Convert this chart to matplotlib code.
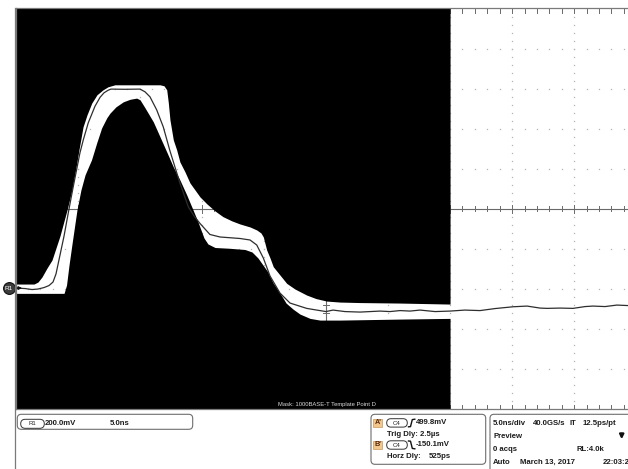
import numpy as np
import matplotlib
matplotlib.use('Agg')
import matplotlib.pyplot as plt
from matplotlib.patches import FancyBboxPatch, Rectangle

# ---------------- data ----------------
ns_per_div = 5.0
mv_per_div = 200.0
r1_center_mv = 396.0          # screen centre relative to R1 ground (mV)

trace_t = [0.00, 0.77, 1.33, 1.81, 2.30, 2.70, 3.02, 3.26, 3.50, 3.91, 4.31, 4.63, 4.95,
           5.19, 5.46, 5.86, 6.40, 6.81, 7.13, 7.45, 7.69, 8.81, 10.03, 10.43, 10.83,
           11.37, 11.90, 12.44, 13.24, 13.92, 14.38, 14.86, 15.66, 16.47, 18.08, 18.89,
           19.43, 19.96, 20.50, 21.30, 22.11, 23.45, 24.26, 25.01, 25.57, 26.54, 27.75,
           29.36, 30.16, 30.97, 31.77, 32.58, 33.79, 34.99, 36.20, 37.41, 38.62, 40.07,
           41.20, 42.24, 42.81, 43.86, 44.90, 45.87, 46.51, 47.48, 48.44, 49.33, 49.98]
trace_mv = [0, -2.5, -7.5, -5, 2.5, 12.5, 30, 70, 140, 260, 395, 500, 600,
            675, 740, 825, 907.5, 952.5, 975, 987.5, 993.5, 992.5, 993.5, 980, 955,
            890, 805, 685, 525, 405, 360, 322.5, 267.5, 255, 247.5, 240,
            215, 150, 60, -25, -75, -101.5, -110, -117.5, -110, -117.5, -120,
            -115, -117.5, -112.5, -115, -110, -117.5, -115, -110, -112.5, -102.5, -93.5,
            -90, -100, -101.5, -100, -101.5, -92.5, -90, -92.5, -85, -87.5, -85]

mask_top_t = [0.00, 1.49, 1.81, 2.13, 2.54, 2.94, 3.58, 4.15, 4.55, 4.87, 5.11, 5.44,
              5.76, 6.14, 6.56, 7.05, 7.45, 8.01, 11.64, 11.96, 12.18, 12.31, 12.44,
              12.71, 12.98, 13.24, 13.65, 14.05, 14.86, 15.42, 16.07, 16.71, 17.44,
              18.08, 18.89, 19.43, 19.77, 19.96, 20.23, 20.50, 20.76, 21.30, 21.84,
              22.51, 23.45, 24.20, 25.06, 26.13, 27.75, 30.97, 35.00]
mask_top_mv = [20, 20, 30, 55, 100, 140, 260, 390, 490, 600, 690, 805,
               865, 923.5, 965, 990, 1005, 1015, 1015, 1010, 990, 925, 840,
               740, 690, 630, 580, 525, 455, 420, 385, 356.5, 335,
               320, 305, 290, 275, 255, 190, 150, 106.5, 65, 23.5,
               -5, -35, -52.5, -65, -70, -72.5, -75, -80]

mask_bot_t = [0.00, 3.91, 4.11, 4.31, 4.55, 4.95, 5.27, 5.60, 6.12, 6.54, 6.94, 7.35,
              7.61, 8.09, 8.68, 9.22, 9.76, 10.03, 10.43, 11.10, 11.64, 12.18, 12.71,
              13.24, 13.79, 14.30, 14.70, 14.94, 15.18, 15.50, 16.07, 17.27, 18.48,
              19.05, 19.53, 19.93, 20.33, 20.76, 21.30, 21.79, 22.35, 22.91, 23.72,
              24.52, 26.13, 30.97, 35.00]
mask_bot_mv = [-26.5, -26.5, 15, 115, 220, 390, 490, 565, 640, 725, 800, 850,
               873.5, 905, 930, 942.5, 948.5, 940, 900, 830, 755, 680, 605,
               540, 465, 390, 330, 290, 250, 220, 202.5, 198.5, 192.5,
               180, 150, 115, 80, 25, -25, -75, -105, -130, -151.5,
               -160, -160, -155, -151.5]

mask_name = "Mask: 1000BASE-T Template Point D"

# ---------------- figure ----------------
W, H = 628, 469
fig = plt.figure(figsize=(W / 100, H / 100), dpi=100)
fig.patch.set_facecolor('white')

gl, gr, gt, gb = 15.5, 636.3, 8.5, 409.0
ax = fig.add_axes([gl / W, (H - gb) / H, (gr - gl) / W, (gb - gt) / H])
t_max = 10 * ns_per_div
v_lo = r1_center_mv - 5 * mv_per_div
v_hi = r1_center_mv + 5 * mv_per_div
ax.set_xlim(0, t_max)
ax.set_ylim(v_lo, v_hi)
ax.set_xticks([])
ax.set_yticks([])
ax.set_facecolor('white')
for s in ax.spines.values():
    s.set_color('#7a7a7a')
    s.set_linewidth(0.9)
    s.set_zorder(6)

# graticule
major_t = np.arange(0, t_max + 0.01, ns_per_div)
minor_t = np.arange(0, t_max + 0.01, ns_per_div / 5)
major_v = v_lo + np.arange(0, 11) * mv_per_div
minor_v = v_lo + np.arange(0, 51) * mv_per_div / 5
dot_c = '#b4b4b4'
for t in major_t[1:-1]:
    if abs(t - t_max / 2) < 1e-6:
        continue
    ax.plot(np.full_like(minor_v, t), minor_v, ls='none', marker='s', ms=0.9,
            mfc=dot_c, mec='none', zorder=1)
for v in major_v[1:-1]:
    if abs(v - r1_center_mv) < 1e-6:
        continue
    ax.plot(minor_t, np.full_like(minor_t, v), ls='none', marker='s', ms=0.9,
            mfc=dot_c, mec='none', zorder=1)

cl = '#6a6a6a'
ax.axhline(r1_center_mv, color=cl, lw=0.8, zorder=1)
ax.axvline(t_max / 2, color=cl, lw=0.8, zorder=1)
tick_v = 0.065 * mv_per_div
tick_t = 0.045 * ns_per_div
for t in minor_t:
    big = 1.6 if abs(t / ns_per_div - round(t / ns_per_div)) < 1e-6 else 1.0
    ax.plot([t, t], [r1_center_mv - tick_v * big, r1_center_mv + tick_v * big], color=cl, lw=0.7, zorder=1)
    ax.plot([t, t], [v_hi, v_hi - 1.6 * tick_v], color=cl, lw=0.7, zorder=1)
    ax.plot([t, t], [v_lo, v_lo + 1.6 * tick_v], color=cl, lw=0.7, zorder=1)
for v in minor_v:
    ax.plot([t_max / 2 - tick_t, t_max / 2 + tick_t], [v, v], color=cl, lw=0.7, zorder=1)

# mask regions
ax.fill_between(mask_top_t, mask_top_mv, v_hi + 200, color='black', lw=0, zorder=2)
ax.fill_between(mask_bot_t, v_lo - 200, mask_bot_mv, color='black', lw=0, zorder=2)

# waveform
ax.plot(trace_t, trace_mv, color='#2e2e2e', lw=0.9, zorder=3)

# R1 ground marker
ax.plot([-0.55], [0], marker='o', ms=8.5, mfc='#3c3c3c', mec='#111111', mew=0.8,
        clip_on=False, zorder=7)
ax.text(-0.55, 0, 'R1', color='white', fontsize=4.6, ha='center', va='center',
        family='Liberation Sans', clip_on=False, zorder=8)
ax.annotate('', xy=(0.75, 0), xytext=(-0.1, 0), annotation_clip=False,
            arrowprops=dict(arrowstyle='-|>', color='#111111', lw=0.8, mutation_scale=5),
            zorder=8)

# ---------------- overlay / readouts ----------------
ov = fig.add_axes([0, 0, 1, 1])
ov.set_xlim(0, W)
ov.set_ylim(H, 0)
ov.axis('off')
ov.patch.set_alpha(0)

ov.plot([14.8, 14.8], [gt, H], color='#7a7a7a', lw=0.9)
ov.text(278, 404.6, mask_name, fontsize=4.25, color='#dadada', ha='left', va='center',
        family='Liberation Sans')

txt = dict(family='Liberation Sans', fontweight='bold', fontsize=5.6, color='#1c1c1c',
           va='center', ha='left')
edge = '#6e6e6e'


def rbox(x0, y0, x1, y1, r, fc='none', ec=edge, lw=0.8):
    p = FancyBboxPatch((x0, y0), x1 - x0, y1 - y0,
                       boxstyle='round,pad=0,rounding_size=%g' % r,
                       fc=fc, ec=ec, lw=lw)
    ov.add_patch(p)


# box 1
rbox(17.3, 414.3, 192.7, 429.3, 4)
rbox(20.7, 419.3, 44.3, 428.3, 4.5, ec='#333333', lw=0.7)
ov.text(32.5, 423.8, 'R1', fontsize=4.4, color='#222222', ha='center', va='center',
        family='Liberation Sans')
ov.text(45, 423.3, '200.0mV', **txt)
ov.text(109.3, 423.3, '5.0ns', **txt)

# box 2 (cursors)
rbox(371, 414.3, 485.7, 464.3, 4)
for yc, tag in [(422.9, "A'"), (445.0, "B'")]:
    ov.add_patch(Rectangle((373.3, yc - 4.2), 9, 8.4, fc='#f2c78c', ec='#c99a5e', lw=0.5))
    ov.text(377.8, yc, tag, fontsize=5.2, fontweight='bold', color='#5a2a10', ha='center',
            va='center', family='Liberation Sans')
    rbox(386.7, yc - 4.2, 407.3, yc + 4.2, 4.2, ec='#333333', lw=0.7)
    ov.text(397, yc + 0.3, 'C4', fontsize=4.4, color='#222222', ha='center', va='center',
            family='Liberation Sans')
ov.plot([408.5, 410.5, 412.3, 414.8], [426.8, 426.6, 419.6, 419.2], color='#111111', lw=1.0)
ov.plot([408.5, 410.5, 412.3, 414.8], [441.0, 441.2, 448.4, 448.8], color='#111111', lw=1.0)
ov.text(416.2, 423.0, '499.8mV', **txt)
ov.text(386.7, 434.2, 'Trig Dly: 2.5µs', **txt)
ov.text(415.6, 445.0, '-150.1mV', **txt)
ov.text(387.3, 456.7, 'Horz Dly:', **txt)
ov.text(428.3, 456.7, '525ps', **txt)

# box 3 (acquisition)
rbox(490, 414.3, 700, 520, 4)
ov.text(492.7, 423.3, '5.0ns/div', **txt)
ov.text(532.7, 423.3, '40.0GS/s', **txt)
ov.text(570.0, 423.3, 'IT', **txt)
ov.text(582.7, 423.3, '12.5ps/pt', **txt)
ov.text(493.0, 436.0, 'Preview', **txt)
ov.annotate('', xy=(621.7, 442.0), xytext=(621.7, 431.0),
            arrowprops=dict(arrowstyle='-|>', color='#111111', lw=1.6, mutation_scale=6))
ov.text(493.0, 449.2, '0 acqs', **txt)
ov.text(576.7, 449.2, 'RL:4.0k', **txt)
ov.text(493.0, 462.7, 'Auto', **txt)
ov.text(519.5, 462.7, 'March 13, 2017', **txt)
ov.text(602.7, 462.7, '22:03:23', **txt)

fig.savefig('out.png', dpi=100, facecolor='white')
